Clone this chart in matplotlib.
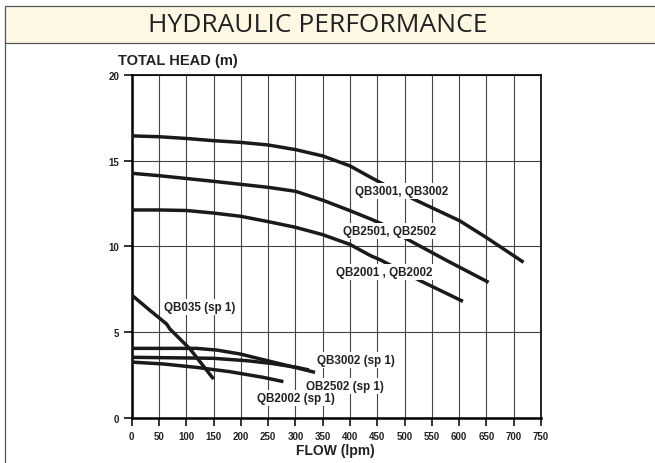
"""Hydraulic performance curves (total head vs flow) for the QB pump range."""

import matplotlib

matplotlib.use("Agg")
import matplotlib.pyplot as plt
from matplotlib.patches import Rectangle

# flow (lpm) / head (m), one pair of lists per curve
QB3001_FLOW = [0, 50, 100, 150, 200, 250, 300, 350, 400, 438, 461, 520, 601, 651, 718]
QB3001_HEAD = [16.45, 16.4, 16.3, 16.17, 16.07, 15.92, 15.65, 15.28, 14.7, 14.03, 13.64,
               12.71, 11.5, 10.5, 9.08]

QB2501_FLOW = [0, 50, 150, 250, 300, 350, 400, 438, 459, 504, 578, 654]
QB2501_HEAD = [14.27, 14.13, 13.8, 13.45, 13.22, 12.7, 12.09, 11.6, 11.31, 10.44, 9.17, 7.91]

QB2001_FLOW = [0, 50, 100, 150, 200, 250, 300, 350, 400, 438, 455, 529, 607]
QB2001_HEAD = [12.13, 12.13, 12.1, 11.95, 11.76, 11.45, 11.12, 10.69, 10.12, 9.46, 9.23,
               8.0, 6.8]

QB035_FLOW = [0, 34, 64, 70, 107, 150]
QB035_HEAD = [7.17, 6.26, 5.48, 5.19, 4.02, 2.27]

QB3002SP_FLOW = [0, 119, 156, 199, 254, 303, 336]
QB3002SP_HEAD = [4.06, 4.06, 3.96, 3.73, 3.3, 2.92, 2.66]

QB2502SP_FLOW = [0, 150, 211, 254, 303, 325]
QB2502SP_HEAD = [3.54, 3.48, 3.34, 3.19, 2.95, 2.8]

QB2002SP_FLOW = [0, 58, 119, 180, 241, 278]
QB2002SP_HEAD = [3.26, 3.15, 2.95, 2.7, 2.37, 2.12]

CURVES = [
    (QB3001_FLOW, QB3001_HEAD),
    (QB2501_FLOW, QB2501_HEAD),
    (QB2001_FLOW, QB2001_HEAD),
    (QB035_FLOW, QB035_HEAD),
    (QB3002SP_FLOW, QB3002SP_HEAD),
    (QB2502SP_FLOW, QB2502SP_HEAD),
    (QB2002SP_FLOW, QB2002SP_HEAD),
]

# (text, flow, head) label anchors (centre of the text)
LABELS = [
    ("QB3001, QB3002", 495, 13.25),
    ("QB2501, QB2502", 472, 10.92),
    ("QB2001 , QB2002", 463, 8.5),
    ("QB035 (sp 1)", 125, 6.45),
    ("QB3002 (sp 1)", 411, 3.4),
    ("QB2502 (sp 1)", 391, 1.85),
    ("QB2002 (sp 1)", 301, 1.15),
]

X_TICKS = list(range(0, 751, 50))
Y_TICKS = [0, 5, 10, 15, 20]

FONT = "Liberation Sans"

fig = plt.figure(figsize=(6.55, 4.64), dpi=100)
fig.patch.set_facecolor("white")

# title band + frame
fig.patches.append(Rectangle((4.5 / 655, 1 - 44 / 464), 1.0, 37 / 464,
                             transform=fig.transFigure, facecolor="#fdf7e4",
                             edgecolor="#555555", linewidth=0.9, zorder=0))
fig.add_artist(plt.Line2D([4.5 / 655, 4.5 / 655], [0, 1 - 44 / 464],
                          transform=fig.transFigure, color="#555555", linewidth=0.9))
fig.text(318 / 655, 1 - 26 / 464, "HYDRAULIC PERFORMANCE", ha="center", va="center",
         fontsize=19, family="Open Sans", color="#222222")

ax = fig.add_axes([131.7 / 655, 1 - 419 / 464, 409.3 / 655, 343 / 464])
for flow, head in CURVES:
    ax.plot(flow, head, color="#1a1a1a", linewidth=2.5, solid_capstyle="butt",
            solid_joinstyle="round", zorder=3)

for text, fx, hy in LABELS:
    ax.text(fx, hy, text, ha="center", va="center", fontsize=8.4, fontweight="bold",
            family=FONT, color="#222222", zorder=4,
            bbox=dict(facecolor="white", edgecolor="none", pad=1.5))

ax.set_xlim(0, 750)
ax.set_ylim(0, 20)
ax.set_xticks(X_TICKS)
ax.set_yticks(Y_TICKS)
ax.grid(True, color="#444444", linewidth=0.8)
ax.set_axisbelow(True)
ax.tick_params(direction="out", length=6, width=1.2, color="#111111", pad=3,
               labelsize=7)
for lbl in ax.get_xticklabels() + ax.get_yticklabels():
    lbl.set_fontweight("bold")
    lbl.set_family(FONT)
    lbl.set_color("#222222")
for spine in ("left", "bottom"):
    ax.spines[spine].set_linewidth(1.8)
for spine in ("top", "right"):
    ax.spines[spine].set_linewidth(1.2)

fig.text(118 / 655, 1 - 61 / 464, "TOTAL HEAD (m)", ha="left", va="center",
         fontsize=10.5, fontweight="bold", family=FONT, color="#222222")
fig.text(335 / 655, 1 - 451 / 464, "FLOW (lpm)", ha="center", va="center",
         fontsize=10, fontweight="bold", family=FONT, color="#222222")

fig.savefig("out.png", dpi=100)
